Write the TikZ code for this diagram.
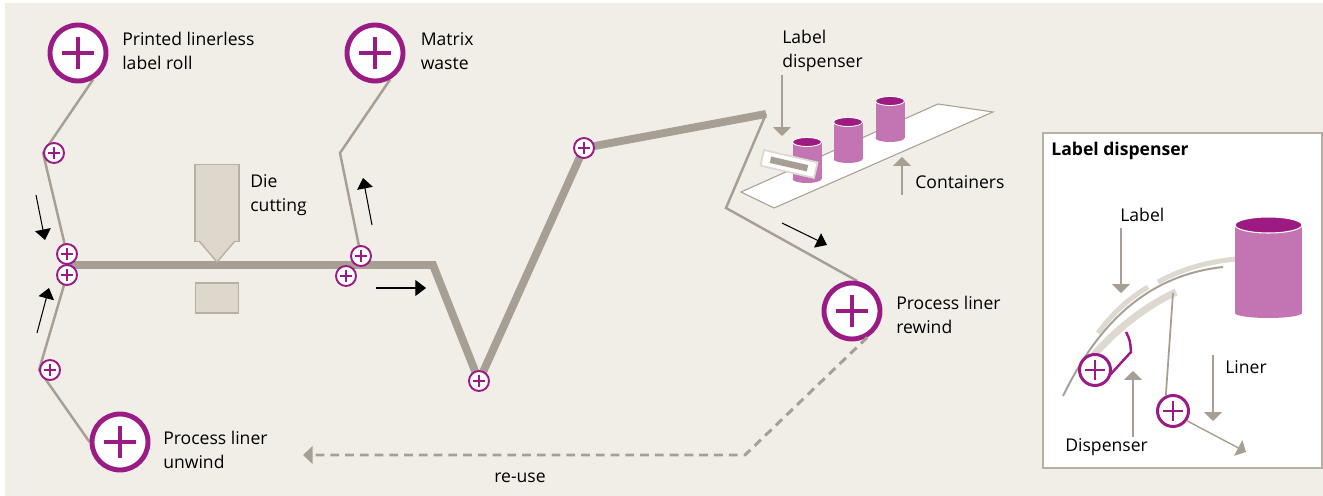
\documentclass[tikz,border=0pt]{standalone}
\usepackage{fontspec}
\setmainfont{Open Sans}
\usetikzlibrary{arrows.meta, positioning}
\definecolor{paper}{HTML}{F1EEE8}
\definecolor{plum}{HTML}{9B1B84}
\definecolor{web}{HTML}{A89F94}
\definecolor{diebody}{HTML}{DED7CC}
\definecolor{dieedge}{HTML}{B8AFA4}
\definecolor{canbody}{HTML}{C275B2}
\definecolor{cantop}{HTML}{9C1A82}
\definecolor{strip}{HTML}{DDD8D0}
\pgfdeclarelayer{canvas}
\pgfdeclarelayer{background}
\pgfsetlayers{canvas,background,main}

\begin{document}
\begin{tikzpicture}[
    x=0.02cm, y=-0.02cm,
    crossmark/.style args={#1 and #2}{path picture={
        \draw[plum, line width=#2]
            ([xshift=-#1]path picture bounding box.center) -- ([xshift=#1]path picture bounding box.center)
            ([yshift=-#1]path picture bounding box.center) -- ([yshift=#1]path picture bounding box.center);}},
    bigroll/.style={circle, draw=plum, fill=white, line width=2.8pt, minimum size=1.12cm, inner sep=0pt, crossmark=0.32cm and 2.4pt},
    idler/.style={circle, draw=plum, fill=white, line width=1.1pt, minimum size=0.4cm, inner sep=0pt, crossmark=0.12cm and 1.1pt},
    panelroll/.style={circle, draw=plum, fill=white, line width=1.7pt, minimum size=0.62cm, inner sep=0pt, crossmark=0.2cm and 1.6pt},
    liner/.style={draw=web, line width=1.4pt},
    mainweb/.style={draw=web, line width=4.5pt},
    flow/.style={-{Triangle[length=6pt, width=9pt]}, black, line width=0.6pt},
    hint/.style={-{Triangle[length=5pt, width=10pt]}, draw=web, line width=0.8pt},
    reuse/.style={-{Triangle[length=5.5pt, width=10pt]}, draw=web, line width=1.7pt, dash pattern=on 5pt off 3.4pt},
    diebox/.style={draw=dieedge, fill=diebody, line width=0.8pt, inner sep=0pt},
    txt/.style={align=left, inner sep=0pt, anchor=west, font=\fontsize{10}{13.6}\selectfont},
    every node/.append style={text=black}
]
    % canvas
    \useasboundingbox (0,0) rectangle (1323,496);
    \begin{pgfonlayer}{canvas}
        \fill[white] (0,0) rectangle (1323,496);
        \fill[paper] (5,3) rectangle (1323,496);
    \end{pgfonlayer}

    % rolls
    \node[bigroll] (supply) at (78,53) {};
    \node[bigroll] (waste) at (375,53) {};
    \node[bigroll] (unwind) at (120,442) {};
    \node[bigroll] (rewind) at (852,311) {};
    \node[idler] (guide1) at (54,153) {};
    \node[idler] (nipA) at (67,254) {};
    \node[idler] (nipB) at (67,275) {};
    \node[idler] (guide2) at (50,370) {};
    \node[idler] (peelA) at (361,256) {};
    \node[idler] (peelB) at (346,276) {};
    \node[idler] (dip) at (479,381) {};
    \node[idler] (guide3) at (584,148) {};

    \coordinate (turn) at (433,265);
    \coordinate (deck) at (766,114);
    \coordinate (bend) at (726,208);
    \coordinate (kink) at (340,153);
    \coordinate (back) at (745,455);
    \coordinate (return) at (303,455);

    % web paths
    \begin{pgfonlayer}{background}
        \draw[mainweb] (nipA |- turn) -- (turn) -- (dip.center) -- (guide3.center) -- (deck);
        \draw[liner] (supply.-60) -- (guide1.west) -- (nipA.center);
        \draw[liner] (unwind.west) -- (guide2.west) -- (nipB.center);
        \draw[liner] (peelA.center) -- (kink) -- (waste.-60);
        \draw[liner] (deck) -- (bend) -- (rewind.80);
    \end{pgfonlayer}
    \draw[reuse] (rewind.-60) -- (back) -- (return);

    % die cutting
    \node[diebox, minimum width=0.88cm, minimum height=1.54cm] (die) at (217,203) {};
    \draw[diebox] (199,241) -- (217,262) -- (235,241);
    \node[diebox, minimum width=0.86cm, minimum height=0.6cm] (anvil) at (217,298) {};

    % direction arrows
    \coordinate (inA) at (36,195);    \coordinate (inA') at (45,240);
    \coordinate (inB) at (37,333);    \coordinate (inB') at (49,288);
    \coordinate (outW) at (372,225);  \coordinate (outW') at (363,178);
    \coordinate (run) at (376,288);   \coordinate (run') at (426,288);
    \coordinate (outL) at (782,223);  \coordinate (outL') at (827,245);
    \draw[flow] (inA) -- (inA');
    \draw[flow] (inB) -- (inB');
    \draw[flow] (outW) -- (outW');
    \draw[flow] (run) -- (run');
    \draw[flow] (outL) -- (outL');

    % conveyor with containers
    \draw[fill=white, draw=web, line width=0.6pt] (741,192) -- (774,208) -- (993,112) -- (938,104) -- cycle;
    \foreach \cx/\cy in {890/101, 848/122, 807/142} {
        \fill[canbody] (\cx-14.5,\cy) rectangle (\cx+14.5,\cy+37);
        \fill[canbody] (\cx,\cy+37) ellipse [x radius=14.5, y radius=4];
        \filldraw[fill=cantop, draw=white, line width=0.5pt] (\cx,\cy) ellipse [x radius=14.5, y radius=4.5];
    }
    \node[draw=strip, fill=white, line width=1pt, minimum width=1.1cm, minimum height=0.32cm, rotate=-13] (tag) at (789,164) {};
    \node[fill=web, inner sep=0pt, minimum width=0.76cm, minimum height=0.13cm, rotate=-13] (tagbar) at (tag) {};

    % labels
    \node[txt, right=0.27cm of supply, yshift=0.04cm] (supplytxt) {Printed linerless\\label roll};
    \node[txt, right=0.3cm of waste, yshift=0.04cm] (wastetxt) {Matrix\\waste};
    \node[txt, right=0.25cm of unwind, yshift=-0.16cm] (unwindtxt) {Process liner\\unwind};
    \node[txt, right=0.27cm of rewind, yshift=-0.08cm] (rewindtxt) {Process liner\\rewind};
    \node[txt] (dietxt) at (250,195) {Die\\cutting};
    \node[txt] (disptxt) at (782,51) {Label\\dispenser};
    \node[txt] (cantxt) at (915,182) {Containers};
    \node[anchor=base, inner sep=0pt, font=\fontsize{10}{13.6}\selectfont] (reusetxt) at (520,483) {re-use};

    \coordinate (dispA) at (782,75);  \coordinate (dispB) at (782,136);
    \coordinate (canA) at (902,195);  \coordinate (canB) at (902,157);
    \draw[hint] (dispA) -- (dispB);
    \draw[hint] (canA) -- (canB);

    % detail box
    \node[draw=dieedge, fill=white, line width=1pt, anchor=north west, inner sep=0pt,
          minimum width=5.58cm, minimum height=6.7cm] (panel) at (1042,132) {};
    \node[txt, font=\fontsize{10}{13.6}\selectfont\bfseries] (paneltitle) at (1051,151) {Label dispenser};

    \draw[draw=strip, line width=4pt] (1088,362) .. controls (1110,335) and (1140,309) .. (1176,292);
    \draw[draw=web, line width=1.1pt] (1063,396) .. controls (1100,320) and (1150,275) .. (1223,267);
    \draw[draw=strip, line width=2.8pt] (1098,333) .. controls (1112,314) and (1128,299) .. (1148,287);
    \draw[draw=strip, line width=2.8pt] (1158,282) .. controls (1180,270) and (1205,262) .. (1236,259);

    \fill[canbody] (1235,225) rectangle (1302,313);
    \fill[canbody] (1268.5,313) ellipse [x radius=33.5, y radius=5];
    \filldraw[fill=cantop, draw=white, line width=0.6pt] (1268.5,225) ellipse [x radius=33.5, y radius=8];

    \draw[plum, line width=1.4pt] (1126,332) .. controls (1130,340) .. (1131,352) -- (1109,376);
    \node[panelroll] (peel) at (1095,370) {};
    \node[panelroll] (take) at (1173,411) {};

    \coordinate (split) at (1173,293);
    \coordinate (linerout) at (1246,452);
    \draw[liner, line width=1pt] (split) -- (take.115);
    \draw[hint] (take.-35) -- (linerout);

    \node[txt] (labeltxt) at (1120,215) {Label};
    \node[txt] (linertxt) at (1225,367) {Liner};
    \node[txt] (dispensertxt) at (1065,447) {Dispenser};
    \coordinate (lblA) at (1121,228);  \coordinate (lblB) at (1121,293);
    \coordinate (lnrA) at (1213,355);  \coordinate (lnrB) at (1213,421);
    \coordinate (dspA) at (1133,437);  \coordinate (dspB) at (1133,371);
    \draw[hint] (lblA) -- (lblB);
    \draw[hint] (lnrA) -- (lnrB);
    \draw[hint] (dspA) -- (dspB);
\end{tikzpicture}
\end{document}
